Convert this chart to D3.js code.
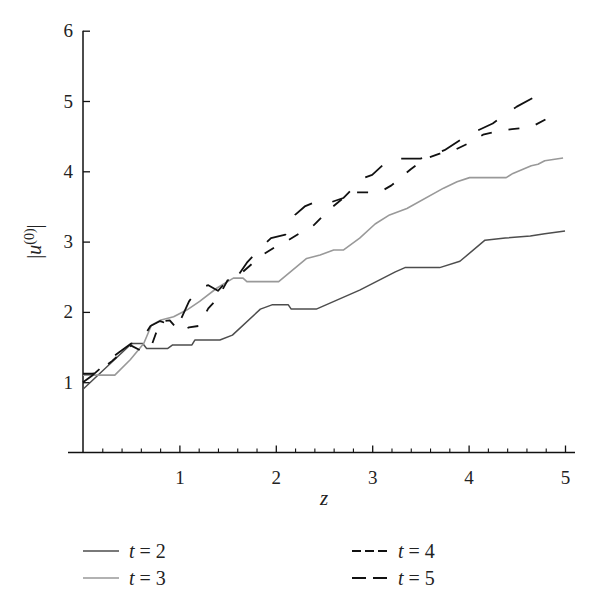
<!DOCTYPE html>
<html>
<head>
<meta charset="utf-8">
<script src="https://cdn.jsdelivr.net/npm/d3@7"></script>
<style>
  body { margin: 0; background: #fff; }
  svg { display: block; }
  text { font-family: "Liberation Serif", "DejaVu Serif", serif; fill: #222; }
</style>
</head>
<body>
<svg id="chart" width="600" height="608"></svg>
<script>
// ---- data ----
const xTicks = [1, 2, 3, 4, 5];
const yTicks = [1, 2, 3, 4, 5, 6];
const seriesNames = ["t = 2", "t = 3", "t = 4", "t = 5"];

const t2z = [0, 0.505, 0.62, 0.66, 0.88, 0.93, 1.13, 1.16, 1.42, 1.55, 1.84, 1.96, 2.13, 2.16, 2.42, 2.87, 3.24, 3.34, 3.70, 3.91, 4.17, 4.38, 4.64, 4.79, 5.0];
const t2v = [0.90, 1.55, 1.55, 1.48, 1.48, 1.53, 1.53, 1.60, 1.60, 1.67, 2.04, 2.10, 2.10, 2.04, 2.04, 2.31, 2.57, 2.63, 2.63, 2.72, 3.02, 3.05, 3.08, 3.11, 3.15];

const t3z = [0, 0.33, 0.49, 0.63, 0.71, 0.80, 0.94, 1.08, 1.21, 1.39, 1.56, 1.66, 1.70, 2.03, 2.32, 2.46, 2.60, 2.70, 2.87, 3.03, 3.18, 3.36, 3.74, 3.88, 4.01, 4.39, 4.46, 4.65, 4.72, 4.79, 4.98];
const t3v = [1.10, 1.10, 1.32, 1.55, 1.81, 1.88, 1.93, 2.03, 2.15, 2.34, 2.48, 2.48, 2.43, 2.43, 2.76, 2.81, 2.88, 2.88, 3.05, 3.25, 3.38, 3.47, 3.76, 3.85, 3.91, 3.91, 3.97, 4.08, 4.10, 4.15, 4.19];

const t4z = [0, 0.1, 0.2, 0.3, 0.4, 0.5, 0.6, 0.7, 0.8, 0.9, 1.0, 1.1, 1.2, 1.3, 1.4, 1.5, 1.6, 1.75, 1.85, 2.0, 2.13, 2.25, 2.4, 2.55, 2.7, 2.82, 3.0, 3.1, 3.2, 3.4, 3.55, 3.7, 3.85, 4.0, 4.15, 4.3, 4.45, 4.65, 4.8, 4.93];
const t4v = [1.12, 1.12, 1.20, 1.30, 1.42, 1.52, 1.45, 1.48, 1.86, 1.88, 1.72, 1.78, 1.80, 2.05, 2.20, 2.45, 2.50, 2.68, 2.80, 2.93, 3.02, 3.12, 3.24, 3.45, 3.62, 3.70, 3.70, 3.72, 3.80, 4.03, 4.18, 4.25, 4.30, 4.40, 4.52, 4.57, 4.60, 4.63, 4.74, 4.85];

const t5z = [0, 0.1, 0.2, 0.3, 0.4, 0.5, 0.6, 0.7, 0.8, 0.9, 1.0, 1.1, 1.2, 1.3, 1.4, 1.5, 1.6, 1.7, 1.8, 1.95, 2.1, 2.2, 2.3, 2.42, 2.55, 2.7, 2.9, 3.0, 3.15, 3.25, 3.5, 3.75, 4.0, 4.25, 4.5, 4.7, 4.8, 4.82];
const t5v = [1.00, 1.10, 1.22, 1.35, 1.45, 1.55, 1.58, 1.80, 1.87, 1.82, 1.85, 2.15, 2.33, 2.38, 2.30, 2.45, 2.50, 2.70, 2.85, 3.05, 3.10, 3.38, 3.50, 3.57, 3.55, 3.62, 3.90, 3.95, 4.14, 4.18, 4.18, 4.30, 4.52, 4.68, 4.92, 5.07, 5.10, 5.05];

// ---- layout / style ----
const svg = d3.select("#chart");
const x = d3.scaleLinear().domain([0, 5]).range([83, 565]);
const y = d3.scaleLinear().domain([0, 6]).range([452.5, 30.7]);

const styles = [
  { color: "#4d4d4d", width: 1.5, dash: null, legendDash: null },
  { color: "#999", width: 1.6, dash: null, legendDash: null },
  { color: "#111", width: 1.8, dash: "11,17", legendDash: "9,4" },
  { color: "#111", width: 1.8, dash: "21,21", legendDash: "14,7" }
];
const series = [
  t2z.map((z, i) => [z, t2v[i]]),
  t3z.map((z, i) => [z, t3v[i]]),
  t4z.map((z, i) => [z, t4v[i]]),
  t5z.map((z, i) => [z, t5v[i]])
];

// ---- axes ----
const xAxis = d3.axisBottom(x).tickValues(xTicks).tickSize(-7).tickPadding(18).tickFormat(d3.format("d"));
const gx = svg.append("g").attr("transform", `translate(0,${y(0)})`).call(xAxis);
gx.select(".domain").remove();
gx.selectAll(".tick line").attr("stroke", "#111").attr("stroke-width", 1.3);
gx.selectAll(".tick text").attr("font-size", 19).attr("fill", "#222");

const minor = d3.range(0.2, 5, 0.2).filter(v => Math.abs(v - Math.round(v)) > 1e-6);
const xMinor = d3.axisBottom(x).tickValues(minor).tickSize(-4).tickFormat("");
const gxm = svg.append("g").attr("transform", `translate(0,${y(0)})`).call(xMinor);
gxm.select(".domain").remove();
gxm.selectAll(".tick line").attr("stroke", "#111").attr("stroke-width", 1.1);

svg.append("line").attr("x1", 68).attr("x2", 575).attr("y1", y(0)).attr("y2", y(0))
  .attr("stroke", "#111").attr("stroke-width", 1.5);

const yAxis = d3.axisLeft(y).tickValues(yTicks).tickSize(-7).tickPadding(10).tickFormat(d3.format("d"));
const gy = svg.append("g").attr("transform", `translate(${x(0)},0)`).call(yAxis);
gy.select(".domain").remove();
gy.selectAll(".tick line").attr("stroke", "#111").attr("stroke-width", 1.3);
gy.selectAll(".tick text").attr("font-size", 19).attr("fill", "#222");
svg.append("line").attr("x1", x(0)).attr("x2", x(0)).attr("y1", y(6)).attr("y2", y(0))
  .attr("stroke", "#111").attr("stroke-width", 1.5);

// axis titles
svg.append("text").attr("x", x(2.5)).attr("y", 505).attr("text-anchor", "middle")
  .attr("font-size", 21).attr("font-style", "italic").text("z");

const yl = svg.append("text").attr("transform", `translate(41,${y(3)}) rotate(-90)`)
  .attr("text-anchor", "middle").attr("font-size", 20);
yl.append("tspan").text("|");
yl.append("tspan").attr("font-style", "italic").text("u");
yl.append("tspan").attr("dy", -7).attr("font-size", 14).text("(0)");
yl.append("tspan").attr("dy", 7).text("|");

// ---- lines ----
const line = d3.line().x(d => x(d[0])).y(d => y(d[1]));
series.forEach((s, i) => {
  svg.append("path").datum(s).attr("d", line)
    .attr("fill", "none")
    .attr("stroke", styles[i].color)
    .attr("stroke-width", styles[i].width)
    .attr("stroke-dasharray", styles[i].dash)
    .attr("stroke-linejoin", "round");
});

// ---- legend ----
const legendPos = [[83, 551], [83, 578], [352, 551], [352, 578]];
seriesNames.forEach((name, i) => {
  const [lx, ly] = legendPos[i];
  svg.append("line").attr("x1", lx).attr("x2", lx + 36).attr("y1", ly).attr("y2", ly)
    .attr("stroke", styles[i].color).attr("stroke-width", styles[i].width)
    .attr("stroke-dasharray", styles[i].legendDash);
  const t = svg.append("text").attr("x", lx + 46).attr("y", ly + 7).attr("font-size", 20);
  t.append("tspan").attr("font-style", "italic").text("t");
  t.append("tspan").text(name.slice(1));
});
</script>
</body>
</html>
